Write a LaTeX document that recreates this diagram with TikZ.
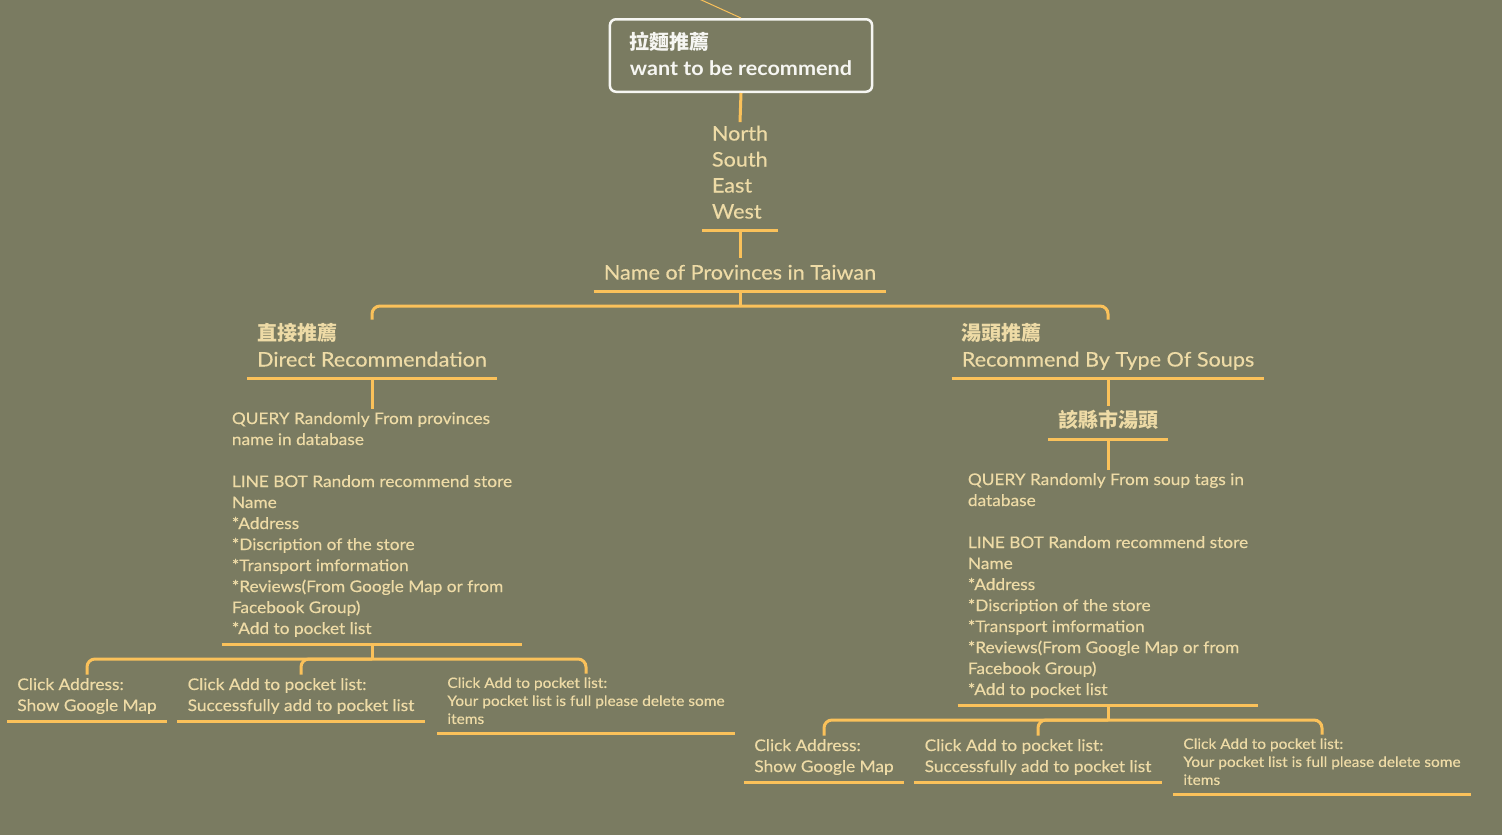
\documentclass[tikz,border=0pt]{standalone}
\usepackage{fontspec}
\setmainfont{Lato}[FakeStretch=1.08, UprightFeatures={FakeBold=0.4}]
\newfontfamily\cjk{Noto Sans CJK TC}
\usetikzlibrary{positioning}

\definecolor{bgclr}{RGB}{122,123,97}
\definecolor{lineclr}{RGB}{250,193,90}
\definecolor{txtclr}{RGB}{238,219,166}
\definecolor{rootclr}{RGB}{246,246,242}

\tikzset{
  topic/.style={align=left, text=txtclr, anchor=south, inner xsep=10pt, inner ysep=3.5pt,
    execute at begin node=\strut, execute at end node=\strut,
    font=\fontsize{20pt}{26pt}\selectfont},
  detail/.style={topic, font=\fontsize{16pt}{21pt}\selectfont},
  note/.style={topic, font=\fontsize{14.3pt}{18pt}\selectfont},
  rootbox/.style={align=left, text=rootclr, draw=rootclr, line width=2.5pt, rounded corners=6pt,
    anchor=south, inner xsep=20pt, inner ysep=12.5pt,
    execute at begin node={\rule{0pt}{24pt}}, execute at end node={\rule[-4pt]{0pt}{0pt}},
    font=\fontsize{20pt}{26pt}\selectfont},
  uline/.style={draw=lineclr, line width=3pt},
  link/.style={uline, rounded corners=8pt},
}

\begin{document}
\begin{tikzpicture}[x=1pt, y=-1pt]
    \fill[bgclr] (0,0) rectangle (1502,835);
    \useasboundingbox (0,0) rectangle (1502,835);

    % root and the first levels
    \node[rootbox] (root) at (741,93) {{\cjk\bfseries 拉麵推薦}\\\bfseries want to be recommend};
    \node[topic] (dirs) at (740,230) {North\\South\\East\\West};
    \node[topic] (prov) at (740,291) {Name of Provinces in Taiwan};

    % left side
    \node[topic] (direct) at (372,378) {{\cjk\bfseries 直接推薦}\\Direct Recommendation};
    \node[detail] (dinfo) at (372,644) {QUERY Randomly From provinces\\name in database\\[21pt]
        LINE BOT Random recommend store\\Name\\*Address\\*Discription of the store\\
        *Transport imformation\\*Reviews(From Google Map or from\\Facebook Group)\\*Add to pocket list};
    \node[detail] (dmap) at (87,721) {Click Address:\\Show Google Map};
    \node[detail] (dadd) at (301,721) {Click Add to pocket list:\\Successfully add to pocket list};
    \node[note] (dfull) at (586,733) {Click Add to pocket list:\\Your pocket list is full please delete some\\items};

    % right side
    \node[topic] (soup) at (1108,378) {{\cjk\bfseries 湯頭推薦}\\Recommend By Type Of Soups};
    \node[topic] (county) at (1108,439) {\cjk\bfseries 該縣市湯頭};
    \node[detail] (sinfo) at (1108,705) {QUERY Randomly From soup tags in\\database\\[21pt]
        LINE BOT Random recommend store\\Name\\*Address\\*Discription of the store\\
        *Transport imformation\\*Reviews(From Google Map or from\\Facebook Group)\\*Add to pocket list};
    \node[detail] (smap) at (824,782) {Click Address:\\Show Google Map};
    \node[detail] (sadd) at (1038,782) {Click Add to pocket list:\\Successfully add to pocket list};
    \node[note] (sfull) at (1322,794) {Click Add to pocket list:\\Your pocket list is full please delete some\\items};

    \foreach \n in {dirs, prov, direct, dinfo, dmap, dadd, dfull, soup, county, sinfo, smap, sadd, sfull}
        \draw[uline] (\n.south west) -- (\n.south east);

    % junctions
    \coordinate (provJ) at ([yshift=-15pt]prov.south);
    \coordinate (dinfoJ) at ([yshift=-15pt]dinfo.south);
    \coordinate (sinfoJ) at ([yshift=-15pt]sinfo.south);
    \coordinate (offtop) at (697,-2);

    \draw[draw=lineclr, line width=1pt] (offtop) -- (root.north);
    \draw[uline] (root.south) -- (dirs.north);
    \draw[uline] (dirs.south) -- (prov.north);
    \draw[uline] (prov.south) -- (provJ);
    \draw[link] (provJ) -| (direct.north);
    \draw[link] (provJ) -| (soup.north);

    \draw[uline] (direct.south) -- (dinfo.north);
    \draw[uline] (dinfo.south) -- (dinfoJ);
    \foreach \n in {dmap, dadd, dfull}
        \draw[link] (dinfoJ) -| (\n.north);

    \draw[uline] (soup.south) -- (county.north);
    \draw[uline] (county.south) -- (sinfo.north);
    \draw[uline] (sinfo.south) -- (sinfoJ);
    \foreach \n in {smap, sadd, sfull}
        \draw[link] (sinfoJ) -| (\n.north);
\end{tikzpicture}
\end{document}
